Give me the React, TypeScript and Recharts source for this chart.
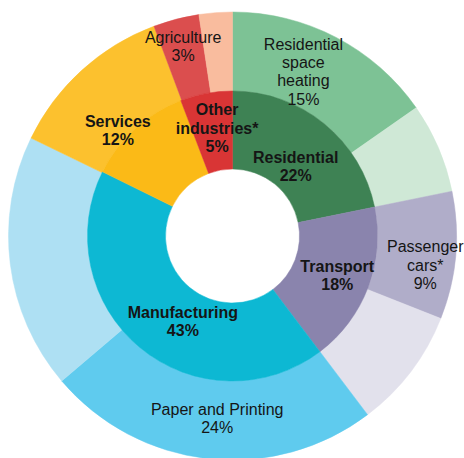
import React from 'react';
import { PieChart, Pie, Cell } from 'recharts';

// Inner ring (sectors), clockwise from 12 o'clock
const innerNames = ['Residential', 'Transport', 'Manufacturing', 'Services', 'Other industries*'];
const innerValues = [21.8, 17.9, 42.6, 11.9, 5.8];
const innerLabelText = ['Residential\n22%', 'Transport\n18%', 'Manufacturing\n43%', 'Services\n12%', 'Other\nindustries*\n5%'];

// Outer ring (sub-sectors)
const outerNames = [
  'Residential space heating', 'Other residential',
  'Passenger cars*', 'Other transport',
  'Paper and Printing', 'Other manufacturing',
  'Services', 'Agriculture', 'Other industries (rest)',
];
const outerValues = [15.3, 6.5, 9.2, 8.7, 24.1, 18.4, 12.1, 3.3, 2.4];
const outerLabelText = [
  'Residential\nspace\nheating\n15%', '',
  'Passenger\ncars*\n9%', '',
  'Paper and Printing\n24%', '',
  '', 'Agriculture\n3%', '',
];

const innerColors = ['#3E8254', '#8A84AD', '#0DB8D3', '#FBBA17', '#D93535'];
const outerColors = ['#7DC295', '#CFE8D6', '#B0ADC9', '#E2E1EC', '#5FCBEE', '#AEE0F3', '#FCC12E', '#DB4E4E', '#F9BC9E'];

// label placement: [angle offset (deg, clockwise), radius]
const innerLabelPlace: [number, number][] = [[3, 94], [0, 112], [-9.5, 99], [-5, 156], [2.3, 109]];
const outerLabelPlace: [number, number][] = [[-4.2, 179], [0, 0], [3.6, 195], [0, 0], [-1.5, 183], [0, 0], [0, 0], [0, 196], [0, 0]];

const innerData = innerNames.map((name, i) => ({ name, value: innerValues[i] }));
const outerData = outerNames.map((name, i) => ({ name, value: outerValues[i] }));

const RAD = Math.PI / 180;
const LINE_H = 18.3;

function makeLabel(texts: string[], place: [number, number][], bold: boolean) {
  return (props: any) => {
    const { cx, cy, midAngle, index } = props;
    const text = texts[index];
    if (!text) return null;
    const [dA, r] = place[index];
    const theta = 90 - midAngle + dA; // clockwise from top
    const x = cx + r * Math.sin(theta * RAD);
    const y = cy - r * Math.cos(theta * RAD);
    const lines = text.split('\n');
    const y0 = y - ((lines.length - 1) * LINE_H) / 2;
    return (
      <g key={`lbl-${index}`}>
        {lines.map((ln, k) => (
          <text
            key={k}
            x={x}
            y={y0 + k * LINE_H}
            textAnchor="middle"
            dominantBaseline="central"
            fontFamily="'Liberation Sans', Arial, sans-serif"
            fontSize={16}
            fontWeight={bold ? 700 : 400}
            fill="#151515"
          >
            {ln}
          </text>
        ))}
      </g>
    );
  };
}

export default function App() {
  return (
    <div style={{ position: 'absolute', left: 0, top: 0, width: 464, height: 458, background: '#fff' }}>
      <PieChart width={464} height={458} margin={{ top: 0, right: 0, bottom: 0, left: 0 }}>
        <Pie
          data={outerData}
          dataKey="value"
          nameKey="name"
          cx={232.5}
          cy={236}
          innerRadius={145}
          outerRadius={224}
          startAngle={90}
          endAngle={-270}
          isAnimationActive={false}
          labelLine={false}
          label={makeLabel(outerLabelText, outerLabelPlace, false)}
        >
          {outerData.map((d, i) => (
            <Cell key={d.name} fill={outerColors[i]} stroke={outerColors[i]} strokeWidth={0.5} />
          ))}
        </Pie>
        <Pie
          data={innerData}
          dataKey="value"
          nameKey="name"
          cx={232.5}
          cy={236}
          innerRadius={67}
          outerRadius={145}
          startAngle={90}
          endAngle={-270}
          isAnimationActive={false}
          labelLine={false}
          label={makeLabel(innerLabelText, innerLabelPlace, true)}
        >
          {innerData.map((d, i) => (
            <Cell key={d.name} fill={innerColors[i]} stroke={innerColors[i]} strokeWidth={0.5} />
          ))}
        </Pie>
      </PieChart>
    </div>
  );
}
